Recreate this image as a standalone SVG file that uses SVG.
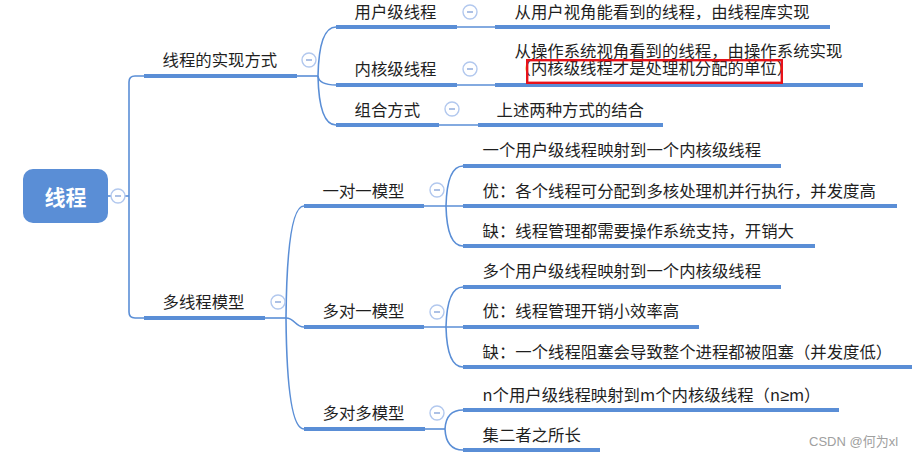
<svg xmlns="http://www.w3.org/2000/svg" xmlns:xlink="http://www.w3.org/1999/xlink" width="912" height="457" viewBox="0 0 912 457">
<style>
.t{font-family:"Noto Sans CJK SC","Liberation Sans",sans-serif;font-size:16.4px;fill:#1f1f1f}
.root{font-family:"Noto Sans CJK SC","Liberation Sans",sans-serif;font-size:21px;font-weight:bold;fill:#ffffff}
.u{stroke:#5a8ed6;stroke-width:4;fill:none}
.c{stroke:#5a8ed6;stroke-width:1.6;fill:none}
.wm{font-family:"Liberation Sans","Noto Sans CJK SC",sans-serif;font-size:13px;fill:#a0a0a0}
.lat{font-family:"Liberation Sans","Noto Sans CJK SC",sans-serif}
</style>
<defs>
<g id="fold">
<circle r="7" fill="#ffffff" stroke="#b2c8ee" stroke-width="1.4"/>
<line x1="-3" y1="0" x2="3" y2="0" stroke="#8aa6da" stroke-width="1.4"/>
</g>
</defs>
<rect width="912" height="457" fill="#ffffff"/>

<g id="connectors">
<path class="c" d="M107,196 H129"/>
<path class="c" d="M129,196 V82 Q129,76 135,76 H144"/>
<path class="c" d="M129,196 V312 Q129,318 135,318 H144"/>
<path class="c" d="M297,76 H318"/>
<path class="c" d="M318,76 Q319,27 336,27"/>
<path class="c" d="M318,76 Q319,85 336,85"/>
<path class="c" d="M318,76 Q319,125 336,125"/>
<path class="c" d="M457,27 H495"/>
<path class="c" d="M457,85 H495"/>
<path class="c" d="M439,125 H478"/>
<path class="c" d="M265,318 H286"/>
<path class="c" d="M286,318 Q287,206 304,206"/>
<path class="c" d="M286,318 C295,318 295,327 304,327"/>
<path class="c" d="M286,318 Q287,429 304,429"/>
<path class="c" d="M424,206 H463"/>
<path class="c" d="M446,206 Q447,166 463,166"/>
<path class="c" d="M446,206 Q447,246 463,246"/>
<path class="c" d="M424,327 H463"/>
<path class="c" d="M446,327 Q447,287 463,287"/>
<path class="c" d="M446,327 Q447,367 463,367"/>
<path class="c" d="M425,429 H445"/>
<path class="c" d="M445,429 Q446,410 463,410"/>
<path class="c" d="M445,429 Q446,450 463,450"/>
</g>

<g id="n-root">
<rect x="23" y="169" width="85" height="54" rx="10" fill="#5a8ed6"/>
<text class="root" x="65.5" y="205" text-anchor="middle">线程</text>
<use xlink:href="#fold" x="118" y="196"/>
</g>

<g id="n-impl">
<line class="u" x1="144" y1="76" x2="297" y2="76"/>
<text class="t" x="162.5" y="66">线程的实现方式</text>
<use xlink:href="#fold" x="309" y="60"/>
</g>

<g id="n-user">
<line class="u" x1="336" y1="27" x2="457" y2="27"/>
<text class="t" x="354.5" y="18">用户级线程</text>
<use xlink:href="#fold" x="470" y="12"/>
</g>
<g id="n-user-desc">
<line class="u" x1="495" y1="27" x2="830" y2="27"/>
<text class="t" x="514.5" y="18">从用户视角能看到的线程，由线程库实现</text>
</g>

<g id="n-kernel">
<line class="u" x1="336" y1="85" x2="457" y2="85"/>
<text class="t" x="354.5" y="75">内核级线程</text>
<use xlink:href="#fold" x="470" y="69"/>
</g>
<g id="n-kernel-desc">
<line class="u" x1="495" y1="85" x2="863" y2="85"/>
<text class="t" x="514.5" y="57">从操作系统视角看到的线程，由操作系统实现</text>
<text class="t" x="514.5" y="74">（内核级线程才是处理机分配的单位）</text>
<rect x="527.2" y="60.2" width="254.6" height="22.6" fill="none" stroke="#e8121a" stroke-width="2.4"/>
</g>

<g id="n-combo">
<line class="u" x1="336" y1="125" x2="439" y2="125"/>
<text class="t" x="354.5" y="115.5">组合方式</text>
<use xlink:href="#fold" x="452" y="109"/>
</g>
<g id="n-combo-desc">
<line class="u" x1="478" y1="125" x2="663" y2="125"/>
<text class="t" x="496.5" y="116">上述两种方式的结合</text>
</g>

<g id="n-multi">
<line class="u" x1="144" y1="318" x2="265" y2="318"/>
<text class="t" x="162.5" y="308">多线程模型</text>
<use xlink:href="#fold" x="278" y="302"/>
</g>

<g id="n-one-one">
<line class="u" x1="304" y1="206" x2="424" y2="206"/>
<text class="t" x="322.5" y="197">一对一模型</text>
<use xlink:href="#fold" x="437" y="190"/>
</g>
<g id="n-one-one-a">
<line class="u" x1="463" y1="166" x2="781" y2="166"/>
<text class="t" x="482.5" y="156">一个用户级线程映射到一个内核级线程</text>
</g>
<g id="n-one-one-b">
<line class="u" x1="463" y1="206" x2="897" y2="206"/>
<text class="t" x="482.5" y="197">优：各个线程可分配到多核处理机并行执行，并发度高</text>
</g>
<g id="n-one-one-c">
<line class="u" x1="463" y1="246" x2="815" y2="246"/>
<text class="t" x="482.5" y="236.5">缺：线程管理都需要操作系统支持，开销大</text>
</g>

<g id="n-many-one">
<line class="u" x1="304" y1="327" x2="424" y2="327"/>
<text class="t" x="322.5" y="317">多对一模型</text>
<use xlink:href="#fold" x="437" y="312"/>
</g>
<g id="n-many-one-a">
<line class="u" x1="463" y1="287" x2="781" y2="287"/>
<text class="t" x="482.5" y="277">多个用户级线程映射到一个内核级线程</text>
</g>
<g id="n-many-one-b">
<line class="u" x1="463" y1="327" x2="699" y2="327"/>
<text class="t" x="482.5" y="317">优：线程管理开销小效率高</text>
</g>
<g id="n-many-one-c">
<line class="u" x1="463" y1="367" x2="912" y2="367"/>
<text class="t" x="482.5" y="358">缺：一个线程阻塞会导致整个进程都被阻塞（并发度低）</text>
</g>

<g id="n-many-many">
<line class="u" x1="304" y1="429" x2="425" y2="429"/>
<text class="t" x="322.5" y="419">多对多模型</text>
<use xlink:href="#fold" x="437" y="413"/>
</g>
<g id="n-many-many-a">
<line class="u" x1="463" y1="410" x2="839" y2="410"/>
<text class="t" x="482.5" y="401">n个用户级线程映射到m个内核级线程（n<tspan class="lat">≥</tspan>m）</text>
</g>
<g id="n-many-many-b">
<line class="u" x1="463" y1="450" x2="600" y2="450"/>
<text class="t" x="482.5" y="441">集二者之所长</text>
</g>

<text class="wm" x="809" y="446">CSDN @何为xl</text>
</svg>
